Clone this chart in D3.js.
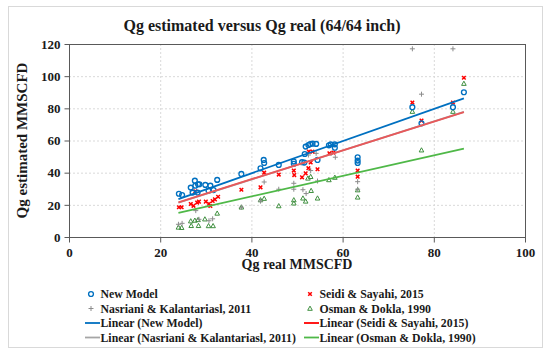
<!DOCTYPE html>
<html>
<head>
<meta charset="utf-8">
<script src="https://cdn.jsdelivr.net/npm/d3@7"></script>
<style>
  body { margin: 0; background: #fff; }
  text { font-family: "Liberation Serif", "DejaVu Serif", serif; font-weight: bold; fill: #1a1a1a; }
</style>
</head>
<body>
<svg width="550" height="355"></svg>
<script>
// [Qg real, Qg estimated] pairs
const newModel = [[24.1,26.9],[24.8,26.1],[26.7,30.7],[27.1,27.6],[27.6,35],[27.7,31.9],[28.2,27.6],[28.3,32.8],[28.6,32.8],
  [29.9,32.4],[30.6,28.8],[31.0,31.9],[31.7,29.2],[32.5,35.5],[37.8,39.2],[42.0,42.7],[42.7,47.9],[42.8,46],[46.0,44.8],
  [49.3,46.9],[49.3,45.5],[51.1,46.5],[51.6,46.3],[51.7,51.6],[51.9,56.2],[52.5,57.2],[52.9,57.8],[53.4,58],[54.2,57.9],
  [54.5,47.9],[57.0,57],[57.4,57.6],[58.3,57.6],[58.3,55.5],[63.3,49.6],[63.3,47.5],[63.3,46],[75.3,80.7],[77.3,70.7],
  [84.2,80.7],[86.6,90]];
const seidi = [[24.1,18.5],[24.7,18.5],[26.7,20.5],[27.3,19.4],[27.7,28.4],[28.1,21.4],[28.5,22],[30.0,22],[30.7,20.7],
  [31.0,19.3],[31.5,22.4],[32.0,23.4],[32.7,25],[37.8,29.4],[42.0,30.9],[42.8,40],[46.0,38.8],[49.3,41.3],[49.4,38.5],
  [51.1,37.1],[51.9,39.6],[52.5,42.8],[53.0,46.3],[52.6,53.1],[53.4,53.1],[54.5,42.1],[57.1,52.1],[58.0,52.5],[63.3,41.3],
  [63.3,37.5],[75.3,83.6],[77.3,72.4],[84.2,83.6],[86.6,99]];
const nasriani = [[24.0,7.9],[24.8,8.5],[27.8,16.4],[28.5,11],[30.7,10.1],[31.5,11.3],[37.8,18.5],[42.0,22.3],[42.8,34.2],
  [46.0,29.7],[49.3,33.4],[49.3,29.7],[51.3,29.4],[52.0,27],[53.0,41.3],[52.5,51],[54.2,52],[54.5,34.8],[58.4,49.6],
  [57.5,52],[63.3,34.4],[63.3,29.7],[75.3,117],[77.3,88.8],[84.2,117]];
const osman = [[24.0,6],[24.7,5.8],[26.8,7],[26.7,9.9],[27.6,10.3],[28.3,10.7],[28.4,7],[29.8,11.1],[30.6,6.9],[31.6,6.9],
  [32.5,14.7],[37.8,18.5],[42.0,23],[42.8,23.9],[46.0,19.3],[49.3,23],[49.3,21],[51.3,24.1],[51.9,22.2],[52.4,36.5],
  [53.0,37.5],[53.1,28.8],[54.5,24.1],[57.0,35.5],[58.3,37],[63.3,29.2],[63.3,24.7],[75.3,78],[77.3,54],[84.2,78],[86.6,95.4]];

// linear trendlines: [slope, intercept]
const trendNew = [1.0, -0.4];
const trendSeidi = [0.895, 0.1];
const trendNasriani = [0.9, -0.2];
const trendOsman = [0.636, -0.2];
const trendRange = [24, 86.6];

const xTicks = [0, 20, 40, 60, 80, 100];
const yTicks = [0, 20, 40, 60, 80, 100, 120];

const svg = d3.select('svg');
const margin = { top: 44, right: 24, bottom: 118, left: 69 };
const innerWidth = 550 - margin.left - margin.right - 1;
const innerHeight = 355 - margin.top - margin.bottom;

svg.append('rect')
  .attr('x', 8.5).attr('y', 6.5)
  .attr('width', 534).attr('height', 341)
  .attr('fill', '#fff').attr('stroke', '#d9d9d9');

svg.append('text')
  .attr('x', 262).attr('y', 31)
  .attr('text-anchor', 'middle')
  .attr('font-size', 16)
  .text('Qg estimated versus Qg real (64/64 inch)');

const g = svg.append('g').attr('transform', `translate(${margin.left},${margin.top})`);

const xScale = d3.scaleLinear().domain([0, 100]).range([0, innerWidth]);
const yScale = d3.scaleLinear().domain([0, 120]).range([innerHeight, 0]);

// grid
g.append('g').selectAll('line').data(yTicks.slice(1, -1)).enter().append('line')
  .attr('x1', 0).attr('x2', innerWidth)
  .attr('y1', d => yScale(d) + 0.5).attr('y2', d => yScale(d) + 0.5)
  .attr('stroke', '#d9d9d9').attr('stroke-dasharray', '2,2');
g.append('g').selectAll('line').data(xTicks.slice(1, -1)).enter().append('line')
  .attr('y1', 0).attr('y2', innerHeight)
  .attr('x1', d => xScale(d) + 0.5).attr('x2', d => xScale(d) + 0.5)
  .attr('stroke', '#d9d9d9').attr('stroke-dasharray', '2,2');

g.append('rect')
  .attr('x', 0.5).attr('y', 0.5)
  .attr('width', innerWidth).attr('height', innerHeight)
  .attr('fill', 'none').attr('stroke', '#595959');

const yAxis = d3.axisLeft(yScale).tickValues(yTicks).tickSize(5).tickPadding(4);
const xAxis = d3.axisBottom(xScale).tickValues(xTicks).tickSize(5).tickPadding(5);

const yAxisG = g.append('g').attr('transform', 'translate(0.5,0)').call(yAxis);
const xAxisG = g.append('g').attr('transform', `translate(0,${innerHeight + 0.5})`).call(xAxis);
[yAxisG, xAxisG].forEach(a => {
  a.select('.domain').remove();
  a.selectAll('line').attr('stroke', '#595959');
  a.selectAll('text').attr('font-size', 13).attr('fill', '#1a1a1a')
    .style('font-family', '"Liberation Serif", serif').style('font-weight', 'bold');
});

g.append('text')
  .attr('transform', `translate(-42,${innerHeight / 2}) rotate(-90)`)
  .attr('text-anchor', 'middle')
  .attr('font-size', 15)
  .text('Qg estimated MMSCFD');

g.append('text')
  .attr('x', innerWidth / 2).attr('y', innerHeight + 32)
  .attr('text-anchor', 'middle')
  .attr('font-size', 14)
  .text('Qg real MMSCFD');

// trendlines
const trendLine = (coef, color) => {
  const pts = trendRange.map(x => [x, coef[0] * x + coef[1]]);
  g.append('line')
    .attr('x1', xScale(pts[0][0])).attr('y1', yScale(pts[0][1]))
    .attr('x2', xScale(pts[1][0])).attr('y2', yScale(pts[1][1]))
    .attr('stroke', color).attr('stroke-width', 1.8);
};

// markers
const drawCircle = (sel, color) => sel.append('circle').attr('r', 2.4)
  .attr('fill', 'none').attr('stroke', color).attr('stroke-width', 1.4);
const drawX = (sel, color) => sel.append('path')
  .attr('d', 'M-1.8,-1.8L1.8,1.8M1.8,-1.8L-1.8,1.8')
  .attr('fill', 'none').attr('stroke', color).attr('stroke-width', 1.5);
const drawPlus = (sel, color) => sel.append('path')
  .attr('d', 'M-2.5,0H2.5M0,-2.5V2.5')
  .attr('stroke', color).attr('stroke-width', 1);
const drawTri = (sel, color) => sel.append('path')
  .attr('d', 'M0,-2.4L2.3,1.8L-2.3,1.8Z')
  .attr('fill', 'none').attr('stroke', color).attr('stroke-width', 1);

const blue = '#0070c0', red = '#ff0000', gray = '#8c8c8c', green = '#3f8f3f';

const scatter = (data, draw, color) => {
  g.append('g').selectAll('g').data(data).enter().append('g')
    .attr('transform', d => `translate(${xScale(d[0])},${yScale(d[1])})`)
    .call(s => draw(s, color));
};

scatter(osman, drawTri, green);
scatter(nasriani, drawPlus, gray);
scatter(seidi, drawX, red);
scatter(newModel, drawCircle, blue);

trendLine(trendOsman, '#4fb848');
trendLine(trendNasriani, '#a6a6a6');
trendLine(trendSeidi, '#e8585a');
trendLine(trendNew, '#0070c0');

// legend
const legendItems = [
  { label: 'New Model', draw: drawCircle, color: blue, col: 0, row: 0 },
  { label: 'Seidi & Sayahi, 2015', draw: drawX, color: red, col: 1, row: 0 },
  { label: 'Nasriani & Kalantariasl, 2011', draw: drawPlus, color: gray, col: 0, row: 1 },
  { label: 'Osman & Dokla, 1990', draw: drawTri, color: green, col: 1, row: 1 },
  { label: 'Linear (New Model)', line: '#0070c0', col: 0, row: 2 },
  { label: 'Linear (Seidi & Sayahi, 2015)', line: '#ff0000', col: 1, row: 2 },
  { label: 'Linear (Nasriani & Kalantariasl, 2011)', line: '#a6a6a6', col: 0, row: 3 },
  { label: 'Linear (Osman & Dokla, 1990)', line: '#4fb848', col: 1, row: 3 }
];
const colX = [100, 319];
const rowY = [294, 308.5, 323, 337.5];

const legend = svg.append('g');
legendItems.forEach(d => {
  const x = colX[d.col], y = rowY[d.row];
  if (d.line) {
    legend.append('line').attr('x1', x - 15).attr('x2', x)
      .attr('y1', y).attr('y2', y)
      .attr('stroke', d.line).attr('stroke-width', 1.8);
  } else {
    legend.append('g').attr('transform', `translate(${x - 9},${y})`).call(s => d.draw(s, d.color));
  }
  legend.append('text').attr('x', x + 0.5).attr('y', y + 4)
    .attr('font-size', 11.8).text(d.label);
});
</script>
</body>
</html>
